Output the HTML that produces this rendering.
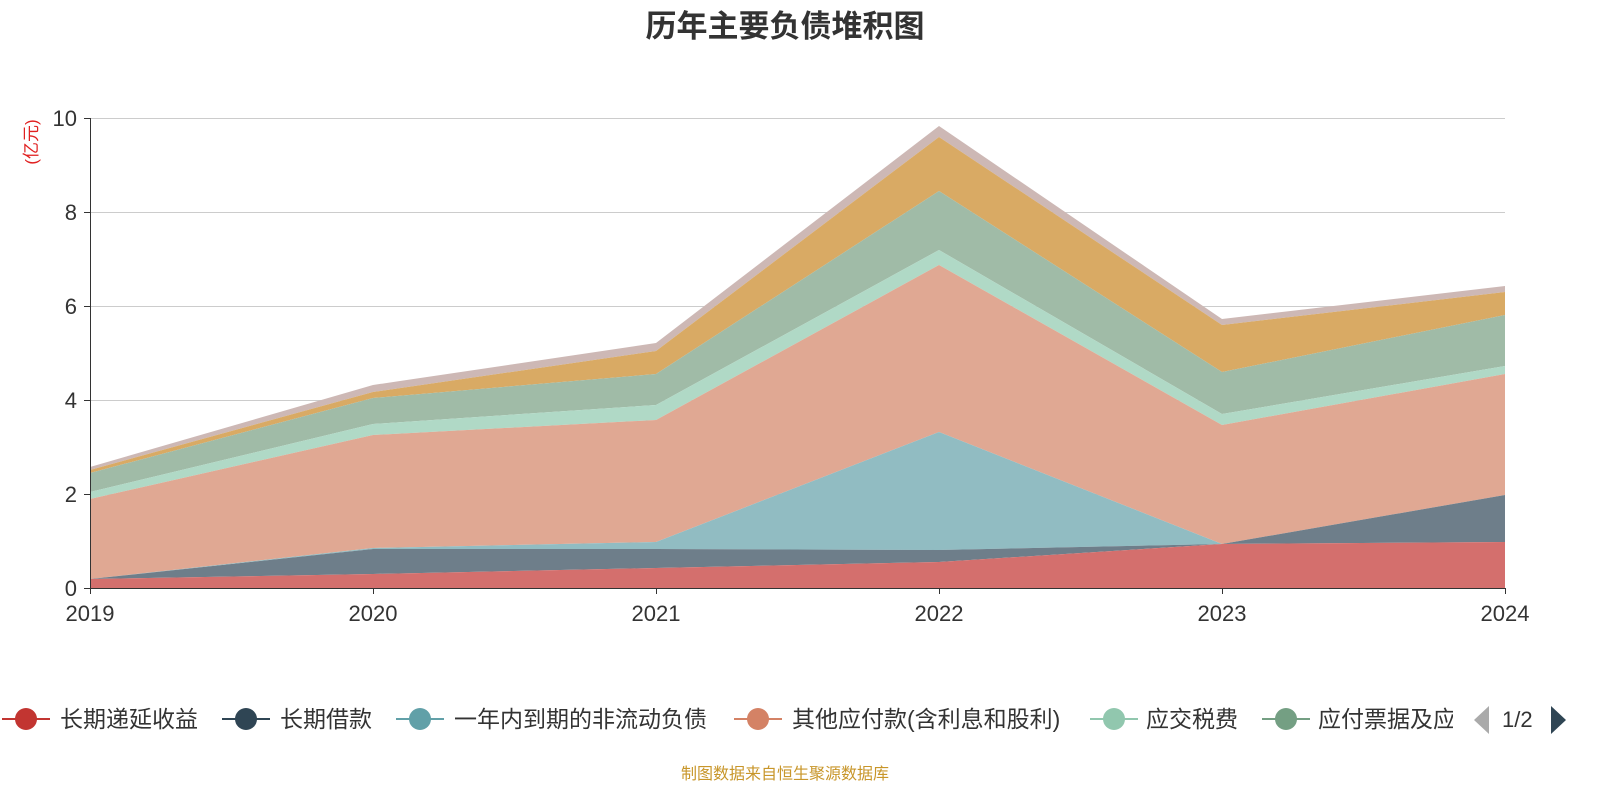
<!DOCTYPE html>
<html><head><meta charset="utf-8"><style>
html,body{margin:0;padding:0;background:#fff;width:1600px;height:800px;overflow:hidden}
text{font-family:"Liberation Sans","Noto Sans CJK SC",sans-serif}
</style></head><body>
<svg width="1600" height="800" xmlns="http://www.w3.org/2000/svg">
<text x="785" y="37" font-size="31" font-weight="bold" fill="#333" text-anchor="middle">历年主要负债堆积图</text>
<text transform="translate(37,142) rotate(-90)" font-size="17" fill="#e02020" text-anchor="middle">(亿元)</text>
<g stroke="#ccc" stroke-width="1">
<line x1="90" x2="1505" y1="118.5" y2="118.5"/><line x1="90" x2="1505" y1="212.5" y2="212.5"/>
<line x1="90" x2="1505" y1="306.5" y2="306.5"/><line x1="90" x2="1505" y1="400.5" y2="400.5"/>
<line x1="90" x2="1505" y1="494.5" y2="494.5"/>
</g>
<polygon fill="#cdb8b5" points="90,467 373,385 656,343 939,126 1222,319 1505,286 1505,292 1222,325 939,137 656,351 373,392 90,470"/>
<polygon fill="#d9aa64" points="90,470 373,392 656,351 939,137 1222,325 1505,292 1505,315 1222,372 939,191 656,374 373,398 90,473"/>
<polygon fill="#a0bba7" points="90,473 373,398 656,374 939,191 1222,372 1505,315 1505,366 1222,414 939,250 656,405 373,424 90,492"/>
<polygon fill="#b0d9c6" points="90,492 373,424 656,405 939,250 1222,414 1505,366 1505,374 1222,425 939,265 656,420 373,435 90,499"/>
<polygon fill="#e0a893" points="90,499 373,435 656,420 939,265 1222,425 1505,374 1505,495 1222,544 939,432 656,542 373,548 90,579"/>
<polygon fill="#91bcc2" points="90,579 373,548 656,542 939,432 1222,544 1505,495 1505,495 1222,544 939,550 656,549 373,549 90,579"/>
<polygon fill="#6e7e8a" points="90,579 373,549 656,549 939,550 1222,544 1505,495 1505,542 1222,544 939,562 656,568 373,574 90,579"/>
<polygon fill="#d46f6d" points="90,579 373,574 656,568 939,562 1222,544 1505,542 1505,588 90,588"/>
<line x1="90.5" y1="118" x2="90.5" y2="588" stroke="#333"/>
<line x1="90" y1="588.5" x2="1505" y2="588.5" stroke="#333"/>
<g stroke="#333">
<line x1="84" x2="90" y1="118.5" y2="118.5"/><line x1="84" x2="90" y1="212.5" y2="212.5"/><line x1="84" x2="90" y1="306.5" y2="306.5"/><line x1="84" x2="90" y1="400.5" y2="400.5"/><line x1="84" x2="90" y1="494.5" y2="494.5"/><line x1="84" x2="90" y1="588.5" y2="588.5"/>
<line x1="90.5" x2="90.5" y1="588" y2="594"/><line x1="373.5" x2="373.5" y1="588" y2="594"/><line x1="656.5" x2="656.5" y1="588" y2="594"/><line x1="939.5" x2="939.5" y1="588" y2="594"/><line x1="1222.5" x2="1222.5" y1="588" y2="594"/><line x1="1505.5" x2="1505.5" y1="588" y2="594"/>
</g>
<g font-size="22" fill="#333" text-anchor="end">
<text x="77" y="126">10</text><text x="77" y="220">8</text><text x="77" y="314">6</text><text x="77" y="408">4</text><text x="77" y="502">2</text><text x="77" y="596">0</text>
</g>
<g font-size="22" fill="#333" text-anchor="middle">
<text x="90" y="621">2019</text><text x="373" y="621">2020</text><text x="656" y="621">2021</text><text x="939" y="621">2022</text><text x="1222" y="621">2023</text><text x="1505" y="621">2024</text>
</g>
<g font-size="23" fill="#333">
<line x1="2" x2="50" y1="719" y2="719" stroke="#c23531" stroke-width="2"/><circle cx="26" cy="719" r="11" fill="#c23531"/><text x="60" y="727">长期递延收益</text>
<line x1="222" x2="270" y1="719" y2="719" stroke="#2f4554" stroke-width="2"/><circle cx="246" cy="719" r="11" fill="#2f4554"/><text x="280" y="727">长期借款</text>
<line x1="396" x2="444" y1="719" y2="719" stroke="#61a0a8" stroke-width="2"/><circle cx="420" cy="719" r="11" fill="#61a0a8"/><text x="454" y="727">一年内到期的非流动负债</text>
<line x1="734" x2="782" y1="719" y2="719" stroke="#d48265" stroke-width="2"/><circle cx="758" cy="719" r="11" fill="#d48265"/><text x="792" y="727">其他应付款(含利息和股利)</text>
<line x1="1090" x2="1138" y1="719" y2="719" stroke="#91c7ae" stroke-width="2"/><circle cx="1114" cy="719" r="11" fill="#91c7ae"/><text x="1146" y="727">应交税费</text>
<line x1="1262" x2="1310" y1="719" y2="719" stroke="#749f83" stroke-width="2"/><circle cx="1286" cy="719" r="11" fill="#749f83"/>
<svg x="1318" y="700" width="135" height="40"><text x="0" y="27">应付票据及应付账款</text></svg>
<polygon points="1489,706 1489,734 1474,720" fill="#aaa"/>
<text x="1502" y="727" font-size="22">1/2</text>
<polygon points="1551,706 1551,734 1566,720" fill="#2f4554"/>
</g>
<text x="785" y="779" font-size="16" fill="#c8962a" text-anchor="middle">制图数据来自恒生聚源数据库</text>
</svg>
</body></html>
